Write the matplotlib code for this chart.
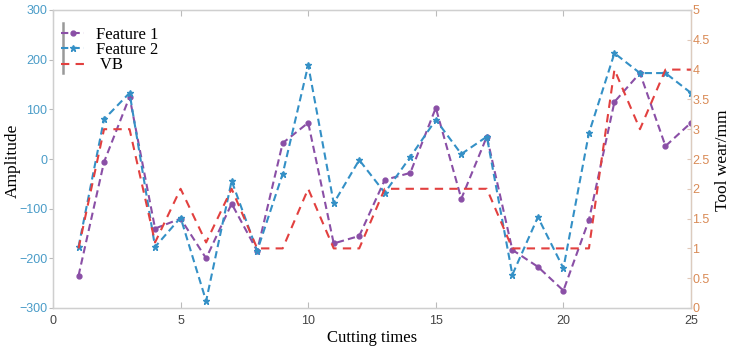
import matplotlib
matplotlib.use('Agg')
import matplotlib.pyplot as plt
from matplotlib.lines import Line2D

# cutting times
cut = list(range(1, 26))

# amplitude of the two features (left axis)
feature1 = [-235, -6, 125, -140, -120, -200, -90, -185, 32, 73,
            -170, -155, -42, -28, 103, -80, 45, -183, -217, -265,
            -123, 115, 173, 26, 73]
feature2 = [-177, 80, 133, -177, -118, -286, -44, -185, -30, 189,
            -89, -2, -68, 4, 79, 10, 45, -233, -117, -220,
            52, 213, 173, 173, 133]

# tool wear VB in mm (right axis)
vb = [1.0, 3.0, 3.0, 1.1, 2.0, 1.1, 2.0, 1.0, 1.0, 2.0,
      1.0, 1.0, 2.0, 2.0, 2.0, 2.0, 2.0, 1.0, 1.0, 1.0,
      1.0, 4.0, 3.0, 4.0, 4.0]

c_f1 = '#8A4FA6'
c_f2 = '#3490C6'
c_vb = '#E2403F'
c_left = '#4A9CC8'
c_right = '#D98A55'
c_spine = '#CFCFCF'

serif = 'Liberation Serif'
sans = 'Liberation Sans'

fig = plt.figure(figsize=(7.31, 3.48), dpi=100)
ax = fig.add_axes([53 / 731, 1 - 308 / 348, 638 / 731, 298 / 348])
ax2 = ax.twinx()

dash = (3.5, 2.0)
l1, = ax.plot(cut, feature1, color=c_f1, lw=1.5, dashes=dash, marker='o',
              ms=3.5, mfc=c_f1, mec=c_f1, label='Feature 1', zorder=3)
l2, = ax.plot(cut, feature2, color=c_f2, lw=1.5, dashes=dash, marker='*',
              ms=4.5, mfc=c_f2, mec=c_f2, label='Feature 2', zorder=3)
l3, = ax2.plot(cut, vb, color=c_vb, lw=1.5, dashes=(4, 3), label='VB', zorder=2)

ax.set_xlim(0, 25)
ax.set_ylim(-300, 300)
ax2.set_ylim(0, 5)
ax.set_xticks([0, 5, 10, 15, 20, 25])
ax.set_yticks(range(-300, 301, 100))
ax2.set_yticks([0, 0.5, 1, 1.5, 2, 2.5, 3, 3.5, 4, 4.5, 5])
ax2.set_yticklabels(['0', '0.5', '1', '1.5', '2', '2.5', '3', '3.5', '4', '4.5', '5'])

for a in (ax, ax2):
    for s in a.spines.values():
        s.set_color(c_spine)
        s.set_linewidth(0.9)
ax2.spines['right'].set_color('#DCCBBE')

ax.tick_params(axis='x', direction='in', length=4, color='#BBBBBB',
               labelsize=9, labelcolor='#444444', top=True, pad=5)
ax.tick_params(axis='y', direction='out', length=3, color='#BBBBBB',
               labelsize=9, labelcolor=c_left, pad=1)
ax2.tick_params(axis='y', direction='in', length=3, color='#E0C8B8',
                labelsize=9, labelcolor=c_right, pad=1)
for t in ax.get_xticklabels() + ax.get_yticklabels() + ax2.get_yticklabels():
    t.set_fontfamily(sans)

ax.set_xlabel('Cutting times', fontsize=12, fontfamily=serif, labelpad=2)
fig.text(13 / 731, 1 - 161 / 348, 'Amplitude', rotation=90, ha='center',
         va='center', fontsize=12.5, fontfamily=serif)
fig.text(723 / 731, 1 - 160 / 348, 'Tool wear/mm', rotation=90, ha='center',
         va='center', fontsize=12.5, fontfamily=serif)

leg = ax.legend(handles=[l1, l2, l3], labels=['Feature 1', 'Feature 2', ' VB'],
                loc='upper left', bbox_to_anchor=(0.01, 0.948), frameon=False,
                prop={'family': serif, 'size': 12}, handlelength=1.4,
                handletextpad=0.7, labelspacing=-0.05, borderpad=0.1,
                borderaxespad=0)
# grey bar on the left edge of the legend
ax.add_line(Line2D([0.016, 0.016], [0.79, 0.955], transform=ax.transAxes,
                   color='#999999', lw=1.8, zorder=5))

fig.savefig('out.png', dpi=100)
